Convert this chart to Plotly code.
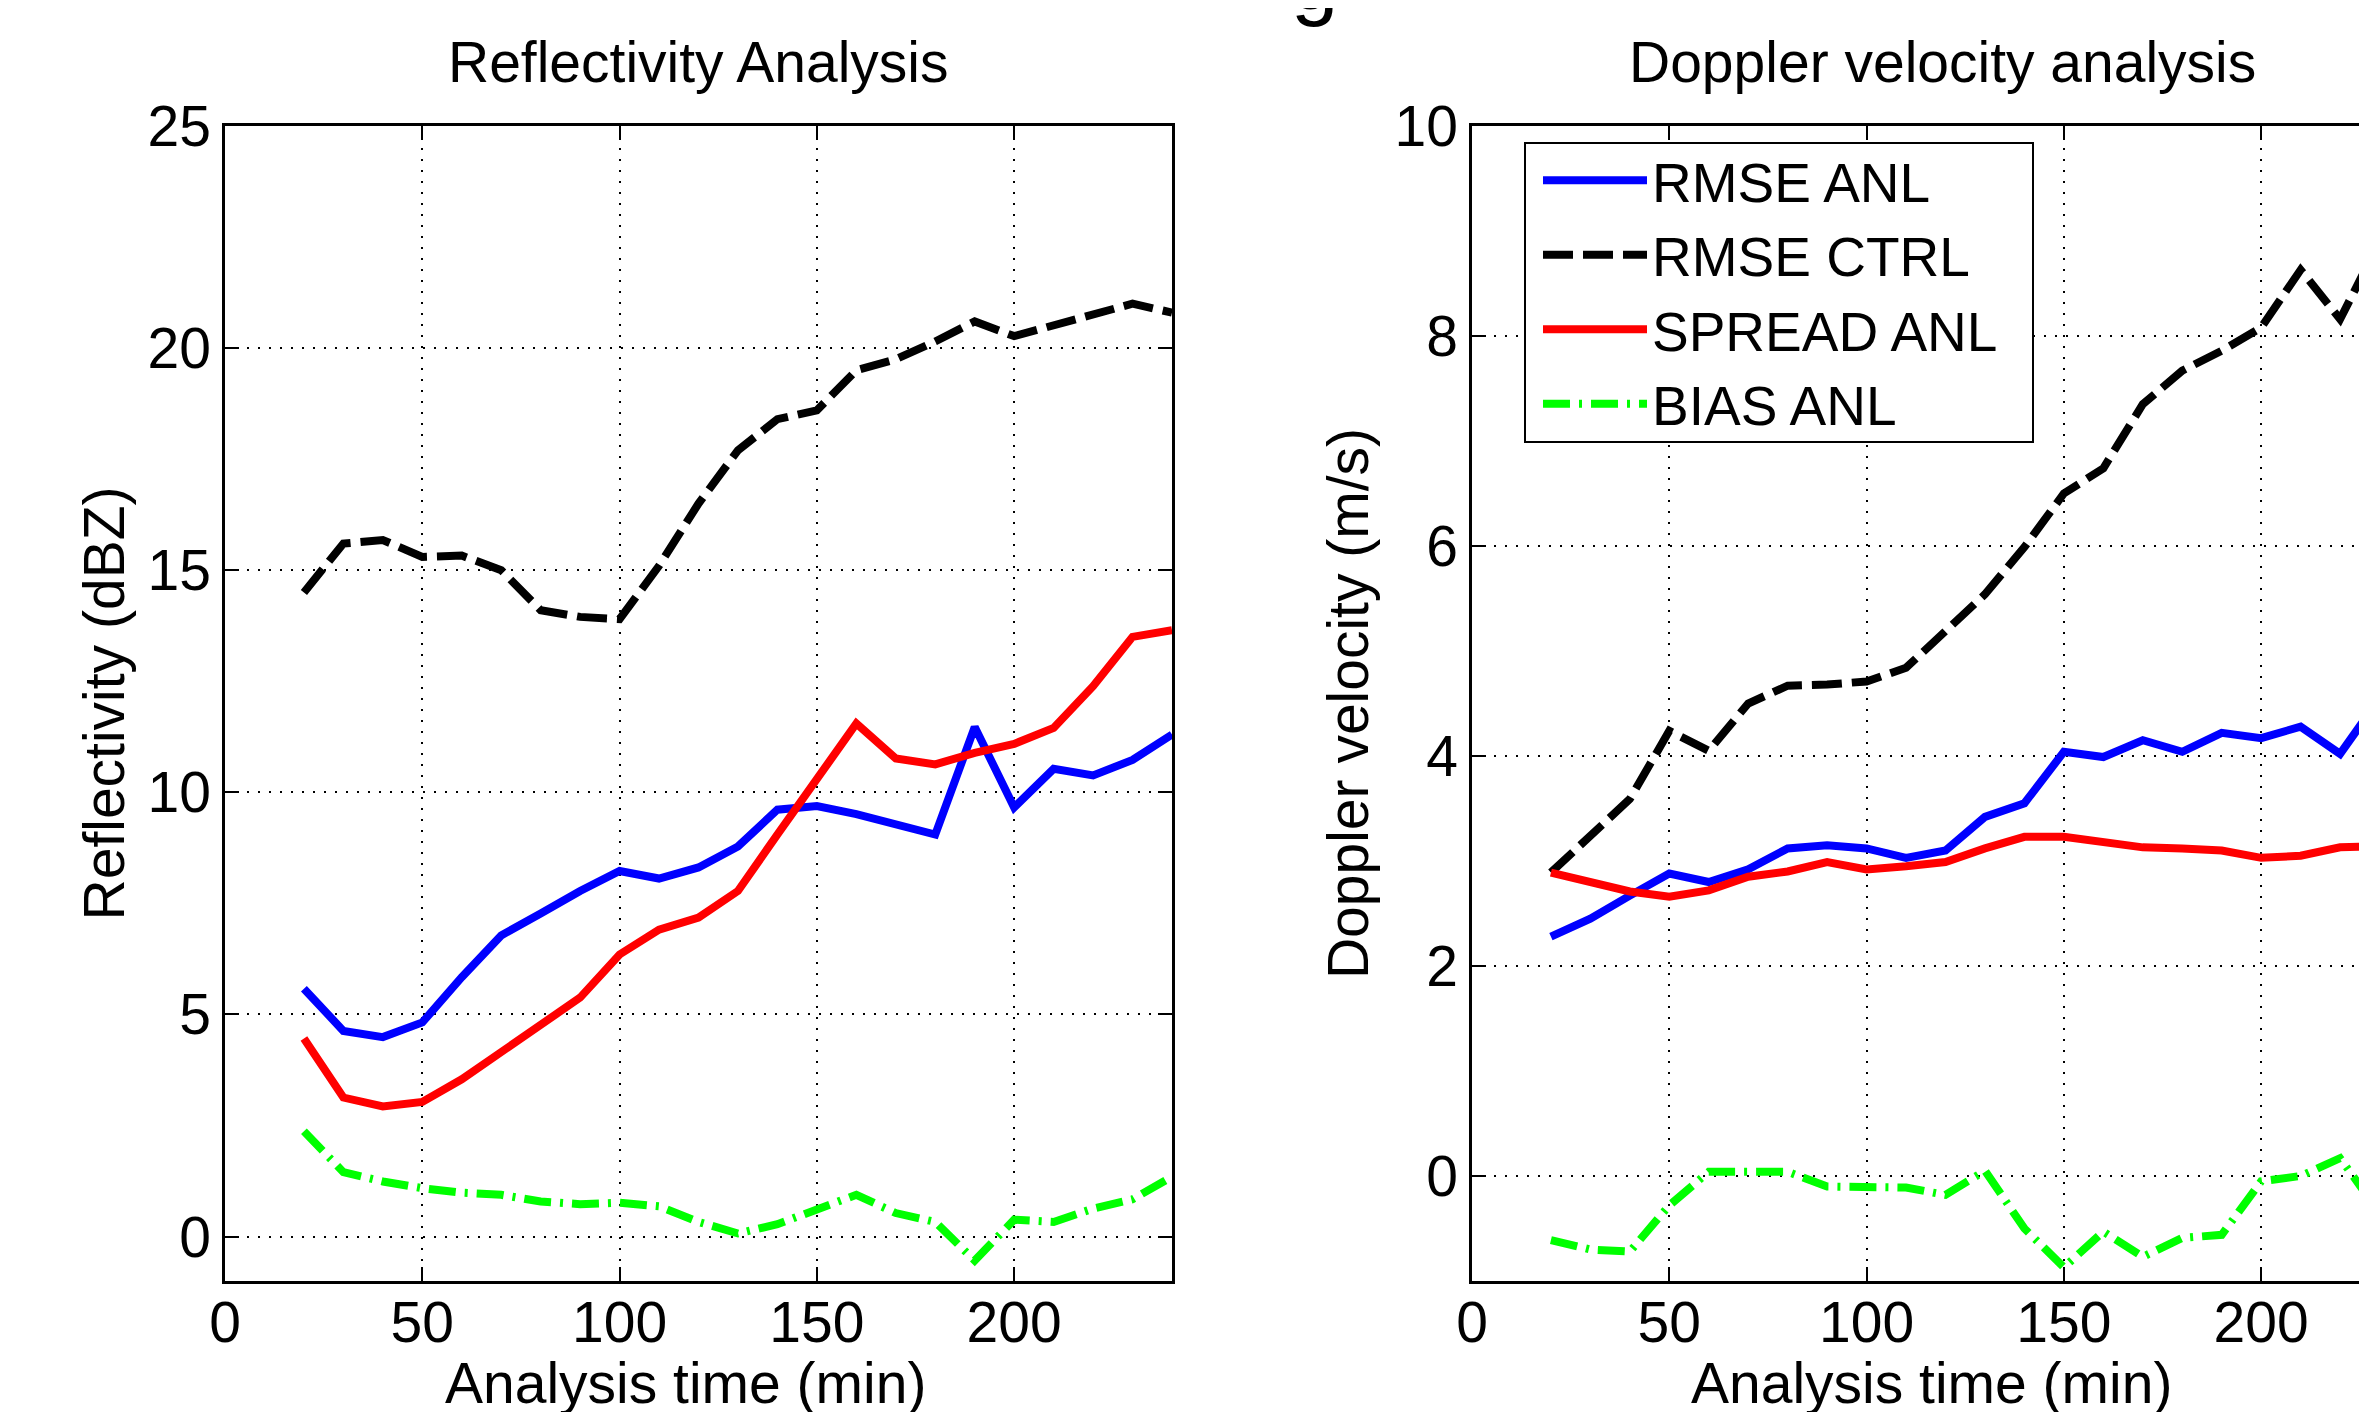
import plotly.graph_objects as go

# ---------------- data ----------------
time_min = [20, 30, 40, 50, 60, 70, 80, 90, 100, 110, 120, 130, 140, 150, 160, 170, 180, 190, 200, 210, 220, 230, 240]

refl_rmse_anl = [5.58, 4.63, 4.49, 4.82, 5.84, 6.78, 7.27, 7.78, 8.23, 8.06, 8.31, 8.78, 9.61, 9.69, 9.51, 9.26, 9.05, 11.47, 9.66, 10.53, 10.38, 10.73, 11.3]
refl_rmse_ctrl = [14.5, 15.6, 15.68, 15.3, 15.33, 15.0, 14.1, 13.95, 13.9, 15.1, 16.5, 17.7, 18.4, 18.6, 19.5, 19.75, 20.15, 20.6, 20.27, 20.5, 20.77, 21.0, 20.8]
refl_spread_anl = [4.46, 3.13, 2.93, 3.03, 3.54, 4.15, 4.77, 5.38, 6.35, 6.91, 7.18, 7.78, 9.05, 10.3, 11.55, 10.76, 10.63, 10.89, 11.09, 11.45, 12.39, 13.5, 13.65]
refl_bias_anl = [2.37, 1.45, 1.24, 1.09, 0.99, 0.94, 0.79, 0.73, 0.76, 0.68, 0.33, 0.07, 0.28, 0.63, 0.94, 0.53, 0.33, -0.54, 0.38, 0.33, 0.63, 0.84, 1.35]

dop_rmse_anl = [2.28, 2.45, 2.67, 2.88, 2.8, 2.92, 3.12, 3.15, 3.12, 3.03, 3.1, 3.42, 3.55, 4.04, 3.99, 4.15, 4.04, 4.22, 4.17, 4.28, 4.02, 4.55, 4.6]
dop_rmse_ctrl = [2.89, 3.23, 3.59, 4.24, 4.05, 4.5, 4.67, 4.68, 4.71, 4.84, 5.18, 5.54, 5.99, 6.5, 6.74, 7.35, 7.67, 7.86, 8.08, 8.63, 8.16, 8.9, 9.05]
dop_spread_anl = [2.89, 2.8, 2.71, 2.66, 2.72, 2.85, 2.9, 2.99, 2.92, 2.95, 2.99, 3.12, 3.23, 3.23, 3.18, 3.13, 3.12, 3.1, 3.03, 3.05, 3.13, 3.15, 3.15]
dop_bias_anl = [-0.61, -0.7, -0.72, -0.28, 0.04, 0.04, 0.04, -0.1, -0.11, -0.11, -0.18, 0.05, -0.5, -0.87, -0.53, -0.77, -0.59, -0.56, -0.05, 0.0, 0.17, -0.35, -0.3]

series_names = ["RMSE ANL", "RMSE CTRL", "SPREAD ANL", "BIAS ANL"]
x_ticks = [0, 50, 100, 150, 200]
refl_y_ticks = [0, 5, 10, 15, 20, 25]
dop_y_ticks = [0, 2, 4, 6, 8, 10]

# ---------------- style ----------------
W, H = 2367, 1412
OFF = 8  # default page body margin in the browser


def X(px):
    return (px - OFF) / W


def Y(py):
    return 1 - (py - OFF) / H


FONT = "Liberation Sans, Arial, Helvetica, sans-serif"
FS = 57
LW = 8
styles = [
    dict(color="#0000FF", width=LW, dash="solid"),
    dict(color="#000000", width=LW, dash="30px,10px"),
    dict(color="#FF0000", width=LW, dash="solid"),
    dict(color="#00FF00", width=LW, dash="27px,9px,3px,9px"),
]

fig = go.Figure()

left_sets = [refl_rmse_anl, refl_rmse_ctrl, refl_spread_anl, refl_bias_anl]
right_sets = [dop_rmse_anl, dop_rmse_ctrl, dop_spread_anl, dop_bias_anl]

for name, ys, st in zip(series_names, left_sets, styles):
    fig.add_trace(go.Scatter(x=time_min, y=ys, mode="lines", name=name, line=st,
                             showlegend=False, xaxis="x", yaxis="y"))
for name, ys, st in zip(series_names, right_sets, styles):
    fig.add_trace(go.Scatter(x=time_min, y=ys, mode="lines", name=name, line=st,
                             showlegend=True, xaxis="x2", yaxis="y2"))

px_per_min = (1172 - 225) / 240.0
right_max = (W + OFF - 1472) / px_per_min

grid = dict(showgrid=True, gridcolor="#000000", gridwidth=1.5, griddash="2px,9px",
            zeroline=False, showline=True, linecolor="#000000", linewidth=2.5,
            ticks="inside", ticklen=14, tickwidth=2, tickcolor="#000000", automargin=False,
            tickfont=dict(family=FONT, size=FS, color="#000000"))

ydom = [Y(1281), Y(126)]

fig.update_layout(
    width=W, height=H,
    margin=dict(l=0, r=0, t=0, b=0, autoexpand=False),
    paper_bgcolor="white", plot_bgcolor="white",
    font=dict(family=FONT, size=FS, color="#000000"),
    xaxis=dict(domain=[X(225), X(1172)], range=[0, 240], tickvals=x_ticks, mirror="ticks",
               ticklabelstandoff=-10, anchor="y", **grid),
    yaxis=dict(domain=ydom, range=[-1, 25], tickvals=refl_y_ticks, mirror="ticks",
               title=dict(text="Reflectivity (dBZ)", font=dict(size=FS), standoff=5), anchor="x", **grid),
    xaxis2=dict(domain=[X(1472), 1.0], range=[0, right_max], tickvals=x_ticks, mirror="ticks",
                ticklabelstandoff=-10, anchor="y2", **grid),
    yaxis2=dict(domain=ydom, range=[-1, 10], tickvals=dop_y_ticks, mirror=False,
                title=dict(text="Doppler velocity (m/s)", font=dict(size=FS), standoff=8), anchor="x2", **grid),
    legend=dict(x=X(1538), y=Y(138), xanchor="left", yanchor="top",
                bgcolor="rgba(0,0,0,0)", borderwidth=0,
                font=dict(family=FONT, size=55, color="#000000"),
                itemwidth=104, tracegroupgap=0),
    shapes=[
        dict(type="rect", xref="paper", yref="paper", layer="above",
             x0=X(1525), x1=X(2033), y0=Y(442), y1=Y(143),
             line=dict(color="#000000", width=2), fillcolor="white"),
    ],
    annotations=[
        dict(text="Reflectivity Analysis", x=X(698), y=Y(62), xref="paper", yref="paper",
             xanchor="center", yanchor="middle", showarrow=False, font=dict(size=FS)),
        dict(text="Doppler velocity analysis", x=X(1942), y=Y(62), xref="paper", yref="paper",
             xanchor="center", yanchor="middle", showarrow=False, font=dict(size=FS)),
        dict(text="Analysis time (min)", x=X(685), y=Y(1383), xref="paper", yref="paper",
             xanchor="center", yanchor="middle", showarrow=False, font=dict(size=FS)),
        dict(text="Analysis time (min)", x=X(1931), y=Y(1383), xref="paper", yref="paper",
             xanchor="center", yanchor="middle", showarrow=False, font=dict(size=FS)),
        dict(text="g", x=X(1314), y=1.0, xref="paper", yref="paper",
             xanchor="center", yanchor="bottom", yshift=-21, showarrow=False, font=dict(size=85)),
    ],
)

fig.write_html("out.html")
